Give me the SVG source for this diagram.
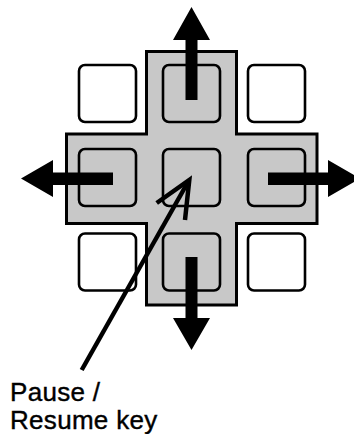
<svg xmlns="http://www.w3.org/2000/svg" width="354" height="434" viewBox="0 0 354 434">
  <style>
    .cross { fill: #c8c8c8; stroke: #000; stroke-width: 3; stroke-linejoin: miter; }
    .key { stroke: #000; stroke-width: 2.6; }
    .key-on { fill: #c8c8c8; }
    .key-off { fill: #fff; }
    .arrow { fill: #000; stroke: none; }
    .pointer { fill: none; stroke: #000; stroke-width: 4.5; stroke-linecap: butt; stroke-linejoin: miter; }
    .label { font-family: "Liberation Sans", Arial, sans-serif; font-size: 26px; fill: #000; stroke: #000; stroke-width: 0.4; letter-spacing: 0.3px; }
  </style>
  <rect width="354" height="434" fill="#fff"/>
  <g id="dpad">
    <path class="cross" d="M146.5,51.5 H236.5 V134 H317 V223.5 H236.5 V305 H146.5 V223.5 H66.5 V134 H146.5 Z"/>
  </g>
  <g id="key-top-left"><rect class="key key-off" x="79" y="65" width="57" height="57" rx="6"/></g>
  <g id="key-up"><rect class="key key-on" x="163" y="65" width="57" height="57" rx="6"/></g>
  <g id="key-top-right"><rect class="key key-off" x="248" y="65" width="57" height="57" rx="6"/></g>
  <g id="key-left"><rect class="key key-on" x="79" y="149" width="57" height="57" rx="6"/></g>
  <g id="key-pause"><rect class="key key-on" x="163" y="149" width="57" height="57" rx="6"/></g>
  <g id="key-right"><rect class="key key-on" x="248" y="149" width="57" height="57" rx="6"/></g>
  <g id="key-bottom-left"><rect class="key key-off" x="79" y="233.5" width="57" height="57" rx="6"/></g>
  <g id="key-down"><rect class="key key-on" x="163" y="233.5" width="57" height="57" rx="6"/></g>
  <g id="key-bottom-right"><rect class="key key-off" x="248" y="233.5" width="57" height="57" rx="6"/></g>
  <g id="connectors">
    <polygon class="arrow" points="185.5,100 197.5,100 197.5,40 210,40 191.5,7 173,40 185.5,40"/>
    <polygon class="arrow" points="113,172.5 113,185 53,185 53,197 21,178.5 53,160 53,172.5"/>
    <polygon class="arrow" points="268,172.5 268,185 328,185 328,197 360,178.5 328,160 328,172.5"/>
    <polygon class="arrow" points="185.5,257 197.5,257 197.5,318 210,318 191.5,350 173,318 185.5,318"/>
    <line class="pointer" x1="81.7" y1="370" x2="188" y2="182"/>
    <polyline class="pointer" points="156.7,203 189.3,180 185,220"/>
  </g>
  <g id="label">
    <text class="label" x="10" y="401">Pause /</text>
    <text class="label" x="10" y="428.5">Resume key</text>
  </g>
</svg>
